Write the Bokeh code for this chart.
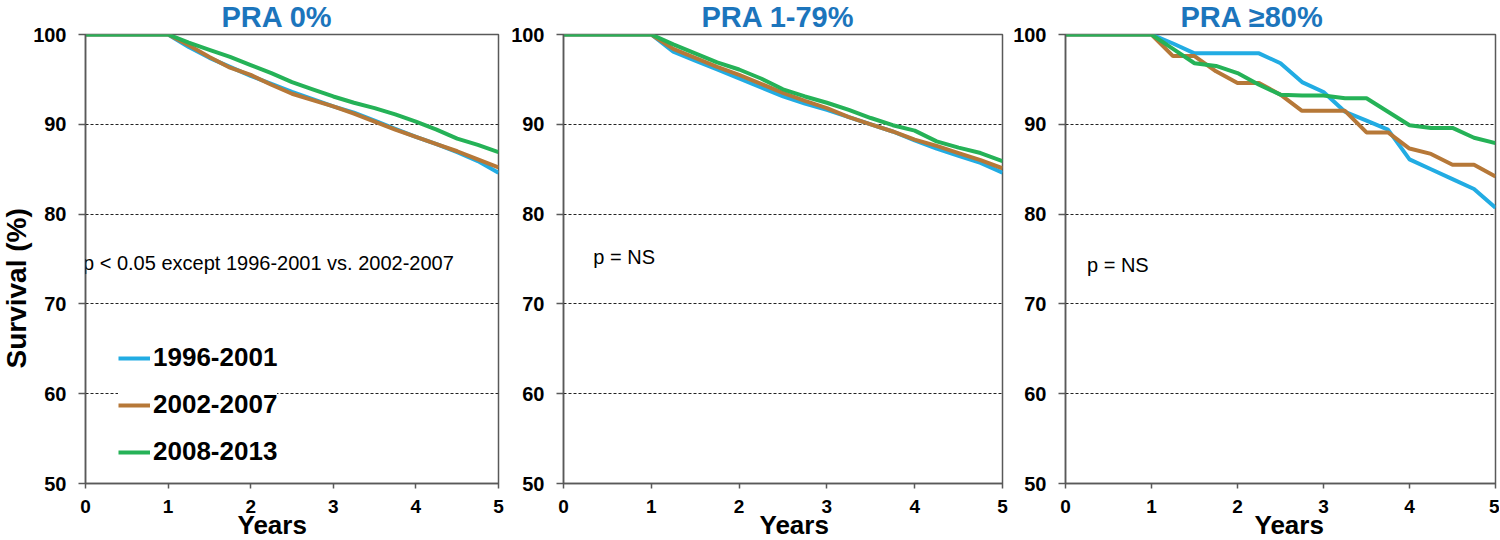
import math
from bokeh.plotting import figure
from bokeh.layouts import row
from bokeh.models import Range1d, Label, FixedTicker, Legend, Title
from bokeh.embed import file_html
from bokeh.resources import INLINE

# ---------------- data ----------------
years = [0, 1, 1.25, 1.5, 1.75, 2, 2.25, 2.5, 2.75, 3, 3.25, 3.5, 3.75, 4, 4.25, 4.5, 4.75, 5]
series_names = ["1996-2001", "2002-2007", "2008-2013"]

pra0_9601 = [100, 100, 98.6, 97.4, 96.4, 95.4, 94.5, 93.6, 92.8, 92.0, 91.3, 90.4, 89.5, 88.6, 87.8, 86.9, 85.9, 84.6]
pra0_0207 = [100, 100, 98.8, 97.5, 96.3, 95.5, 94.4, 93.4, 92.7, 92.0, 91.2, 90.3, 89.4, 88.6, 87.8, 87.0, 86.1, 85.2]
pra0_0813 = [100, 100, 99.1, 98.3, 97.5, 96.6, 95.7, 94.7, 93.9, 93.1, 92.4, 91.8, 91.1, 90.3, 89.4, 88.4, 87.7, 86.9]

pra179_9601 = [100, 100, 98.1, 97.1, 96.1, 95.1, 94.1, 93.1, 92.3, 91.6, 90.8, 90.0, 89.2, 88.2, 87.3, 86.5, 85.7, 84.6]
pra179_0207 = [100, 100, 98.4, 97.4, 96.4, 95.5, 94.5, 93.5, 92.6, 91.8, 90.8, 90.0, 89.2, 88.3, 87.6, 86.8, 86.0, 85.1]
pra179_0813 = [100, 100, 98.9, 97.9, 96.9, 96.1, 95.1, 93.9, 93.1, 92.4, 91.6, 90.7, 89.9, 89.3, 88.1, 87.4, 86.8, 85.9]

pra80_9601 = [100, 100, 99.0, 97.9, 97.9, 97.9, 97.9, 96.8, 94.7, 93.6, 91.4, 90.4, 89.4, 86.1, 85.0, 83.9, 82.8, 80.7]
pra80_0207 = [100, 100, 97.6, 97.6, 95.9, 94.6, 94.6, 93.3, 91.5, 91.5, 91.5, 89.1, 89.1, 87.3, 86.7, 85.5, 85.5, 84.2]
pra80_0813 = [100, 100, 98.4, 96.8, 96.5, 95.7, 94.4, 93.3, 93.2, 93.2, 92.9, 92.9, 91.4, 89.9, 89.6, 89.6, 88.5, 87.9]

panel_titles = ["PRA 0%", "PRA 1-79%", "PRA \u226580%"]
panel_notes = ["p < 0.05 except 1996-2001 vs. 2002-2007", "p = NS", "p = NS"]
x_label = "Years"
y_label = "Survival (%)"
x_ticks = [0, 1, 2, 3, 4, 5]
y_ticks = [50, 60, 70, 80, 90, 100]
grid_ticks = [60, 70, 80, 90]

colors = ["#22ACE3", "#B67838", "#25B257"]
title_color = "#1C75BC"
axis_color = "#595959"
FONT = "Liberation Sans"

panels = [
    dict(data=[pra0_9601, pra0_0207, pra0_0813], width=508, bl=83, br=10,
         title_off=136, years_off=152, note_x=-0.03, note_y=74.5, legend=True, ylabel=True),
    dict(data=[pra179_9601, pra179_0207, pra179_0813], width=502, bl=55, br=8,
         title_off=138, years_off=196, note_x=0.34, note_y=75.2, legend=False, ylabel=False),
    dict(data=[pra80_9601, pra80_0207, pra80_0813], width=489, bl=53, br=4,
         title_off=115, years_off=189, note_x=0.25, note_y=74.3, legend=False, ylabel=False),
]

figs = []
for i, cfg in enumerate(panels):
    p = figure(width=cfg["width"], height=540, output_backend="svg", toolbar_location=None,
               x_range=Range1d(0, 5), y_range=Range1d(50, 100),
               min_border_left=cfg["bl"], min_border_right=cfg["br"],
               min_border_top=34, min_border_bottom=57)
    p.background_fill_color = "white"
    p.border_fill_color = "white"
    p.outline_line_color = axis_color
    p.outline_line_width = 1.5

    p.xgrid.visible = False
    p.ygrid.ticker = FixedTicker(ticks=grid_ticks)
    p.ygrid.grid_line_color = "#222222"
    p.ygrid.grid_line_dash = "3 2"
    p.ygrid.grid_line_width = 1

    for ax, ticks, fs in ((p.xaxis, x_ticks, "19px"), (p.yaxis, y_ticks, "20px")):
        ax.ticker = FixedTicker(ticks=ticks)
        ax.axis_line_color = axis_color
        ax.axis_line_width = 1.5
        ax.major_tick_line_color = axis_color
        ax.major_tick_line_width = 1.5
        ax.major_tick_in = 0
        ax.minor_tick_line_color = None
        ax.major_label_text_font = FONT
        ax.major_label_text_font_style = "bold"
        ax.major_label_text_font_size = fs
        ax.major_label_text_color = "black"
    p.xaxis.major_tick_out = 5
    p.xaxis.major_label_standoff = 11
    p.yaxis.major_tick_out = 7
    p.yaxis.major_label_standoff = 12

    renderers = []
    for name, vals, c in zip(series_names, cfg["data"], colors):
        r = p.line(years, vals, line_color=c, line_width=4)
        renderers.append((name, [r]))

    if cfg["legend"]:
        leg = Legend(items=renderers, location=(33, 16))
        leg.label_text_font = FONT
        leg.label_text_font_style = "bold"
        leg.label_text_font_size = "26px"
        leg.label_text_color = "black"
        leg.label_height = 30
        leg.glyph_height = 30
        leg.glyph_width = 32
        leg.label_standoff = 3
        leg.spacing = 16
        leg.padding = 14
        leg.margin = 0
        leg.border_line_color = None
        leg.background_fill_color = "white"
        leg.background_fill_alpha = 1
        p.add_layout(leg, "center")

    # panel title (above)
    p.add_layout(Title(text=panel_titles[i], text_font=FONT, text_font_style="bold",
                       text_font_size="29px", text_color=title_color, align="left",
                       offset=cfg["title_off"], standoff=-1, vertical_align="top"), "above")
    # x axis label (below)
    p.add_layout(Title(text=x_label, text_font=FONT, text_font_style="bold",
                       text_font_size="26px", text_color="black", align="left",
                       offset=cfg["years_off"], standoff=-12, vertical_align="top"), "below")
    if cfg["ylabel"]:
        p.add_layout(Title(text=y_label, text_font=FONT, text_font_style="bold",
                           text_font_size="28px", text_color="black", align="left",
                           offset=115, standoff=-3, vertical_align="bottom"), "left")
    # note
    p.add_layout(Label(x=cfg["note_x"], y=cfg["note_y"], text=panel_notes[i], text_font=FONT,
                       text_font_size="20px", text_color="black",
                       text_align="left", text_baseline="middle"))
    figs.append(p)

layout = row(*figs, spacing=0)
open("out.html", "w").write(file_html(layout, INLINE))
